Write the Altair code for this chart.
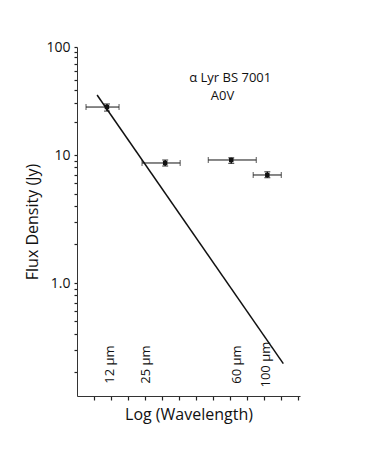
import altair as alt
import pandas as pd

# data
point_x = [1.76, 5.18, 9.06, 11.18]
x_lo = [0.53, 3.82, 7.71, 10.35]
x_hi = [2.47, 6.06, 10.53, 12.0]
flux = [27.8, 8.66, 9.14, 6.98]
flux_lo = [25.5, 8.2, 8.6, 6.65]
flux_hi = [29.7, 9.14, 9.5, 7.4]

fit_x = [1.18, 12.12]
fit_y = [35.9, 0.233]

band_labels = ["12 µm", "25 µm", "60 µm", "100 µm"]
band_x = [1.94, 4.06, 9.41, 11.12]
band_y = [0.229, 0.229, 0.229, 0.229]

annot_lines = ["α Lyr BS 7001", "A0V"]
annot_x = [9.0, 8.55]
annot_y = [52, 35.5]

y_ticks = [0.2, 0.3, 0.4, 0.5, 0.6, 0.7, 0.8, 0.9, 1,
           2, 3, 4, 5, 6, 7, 8, 9, 10,
           20, 30, 40, 50, 60, 70, 80, 90, 100]
x_ticks = list(range(1, 14))

FONT = "Open Sans"

pts = pd.DataFrame(dict(x=point_x, xlo=x_lo, xhi=x_hi, y=flux, ylo=flux_lo, yhi=flux_hi))
fit = pd.DataFrame(dict(x=fit_x, y=fit_y))
bands = pd.DataFrame(dict(x=band_x, y=band_y, t=band_labels))
annot = pd.DataFrame(dict(x=annot_x, y=annot_y, t=annot_lines))

xscale = alt.Scale(domain=[0, 13.1], nice=False, zero=False)
yscale = alt.Scale(type="log", domain=[0.13, 1, 10, 100], range=[349, 236, 108, 0], nice=False)

xaxis = alt.Axis(values=x_ticks, labels=False, grid=False, tickSize=4, tickWidth=1.2,
                 domainColor="#333", tickColor="#222", domainWidth=1,
                 title="Log (Wavelength)", titleFont=FONT, titleFontSize=16,
                 titleFontWeight="normal", titleColor="#111", titlePadding=6)
yaxis = alt.Axis(values=y_ticks, grid=False, tickSize=3, tickWidth=1.2,
                 domainColor="#333", tickColor="#222", domainWidth=1,
                 labelExpr="datum.value == 1 ? '1.0' : (datum.value == 10 ? '10' : (datum.value == 100 ? '100' : ''))",
                 labelFont=FONT, labelFontSize=14, labelColor="#111", labelPadding=4,
                 title="Flux Density (Jy)", titleFont=FONT, titleFontSize=16,
                 titleFontWeight="normal", titleColor="#111", titlePadding=5)


def X(f):
    return alt.X(f, scale=xscale, axis=xaxis)


def Y(f):
    return alt.Y(f, scale=yscale, axis=yaxis)


line = alt.Chart(fit).mark_line(color="#111", strokeWidth=1.5).encode(x=X("x:Q"), y=Y("y:Q"))

hbar = alt.Chart(pts).mark_rule(color="#111", strokeWidth=1).encode(x=X("xlo:Q"), x2="xhi:Q", y=Y("y:Q"))
capl = alt.Chart(pts).mark_tick(color="#111", orient="vertical", size=6, thickness=1).encode(
    x=X("xlo:Q"), y=Y("y:Q"))
capr = alt.Chart(pts).mark_tick(color="#111", orient="vertical", size=6, thickness=1).encode(
    x=X("xhi:Q"), y=Y("y:Q"))
vbar = alt.Chart(pts).mark_rule(color="#111", strokeWidth=1.5).encode(x=X("x:Q"), y=Y("ylo:Q"), y2="yhi:Q")
capt = alt.Chart(pts).mark_tick(color="#111", orient="horizontal", size=6, thickness=1.2).encode(
    x=X("x:Q"), y=Y("yhi:Q"))
capb = alt.Chart(pts).mark_tick(color="#111", orient="horizontal", size=6, thickness=1.2).encode(
    x=X("x:Q"), y=Y("ylo:Q"))
dots = alt.Chart(pts).mark_point(filled=True, color="#111", size=20, shape="square", opacity=1).encode(
    x=X("x:Q"), y=Y("y:Q"))

band_text = alt.Chart(bands).mark_text(angle=270, align="center", baseline="middle",
                                       font=FONT, fontSize=13, color="#111").encode(
    x=X("x:Q"), y=Y("y:Q"), text="t:N")
annot_text = alt.Chart(annot).mark_text(align="center", baseline="middle",
                                        font=FONT, fontSize=13, color="#111").encode(
    x=X("x:Q"), y=Y("y:Q"), text="t:N")

chart = alt.layer(line, hbar, capl, capr, vbar, capt, capb, dots, band_text, annot_text).properties(
    width=223, height=349,
    autosize=alt.AutoSizeParams(type="none"),
    padding={"left": 69, "top": 39, "right": 67, "bottom": 50},
    background="white",
).configure_view(stroke=None)

chart.save("out.html", embed_options={"renderer": "svg", "actions": False})
